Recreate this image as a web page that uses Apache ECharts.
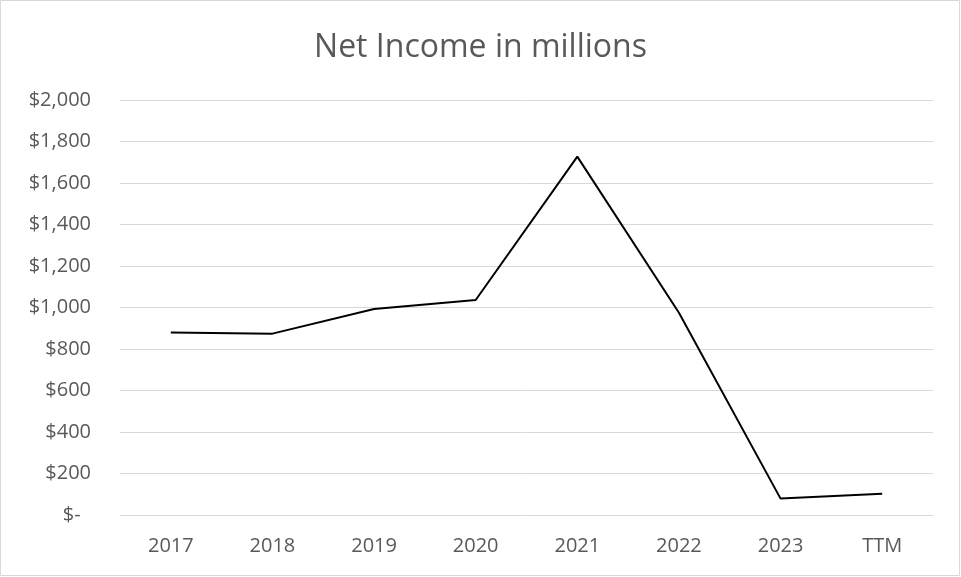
<!DOCTYPE html>
<html>
<head>
<meta charset="utf-8">
<script src="https://cdn.jsdelivr.net/npm/echarts@6/dist/echarts.min.js"></script>
<style>
html,body{margin:0;padding:0;background:#fff;}
#c{width:961px;height:577px;}
</style>
</head>
<body>
<div id="c"></div>
<script>
const categories = ['2017','2018','2019','2020','2021','2022','2023','TTM'];
const netIncome = [880, 874, 993, 1036, 1727, 975, 79, 103];
const yTicks = [0, 200, 400, 600, 800, 1000, 1200, 1400, 1600, 1800, 2000];

const chart = echarts.init(document.getElementById('c'));
const font = "'Open Sans', 'Noto Sans', sans-serif";
chart.setOption({
  animation: false,
  backgroundColor: '#fff',
  title: {
    text: 'Net Income in millions',
    left: 'center',
    top: 27,
    textStyle: { fontFamily: font, fontSize: 32, fontWeight: 'normal', color: '#595959' }
  },
  graphic: [{
    type: 'rect',
    shape: { x: 0.5, y: 0.5, width: 959, height: 575 },
    style: { fill: 'none', stroke: '#d9d9d9', lineWidth: 1 },
    silent: true
  }],
  grid: { left: 120, right: 28, top: 100, bottom: 62 },
  xAxis: {
    type: 'category',
    data: categories,
    boundaryGap: true,
    axisLine: { lineStyle: { color: '#d9d9d9', width: 1 } },
    axisTick: { show: false },
    axisLabel: { color: '#595959', fontFamily: font, fontSize: 20, margin: 21 }
  },
  yAxis: {
    type: 'value',
    min: yTicks[0],
    max: yTicks[yTicks.length - 1],
    interval: 200,
    axisLine: { show: false },
    axisTick: { show: false },
    splitLine: { lineStyle: { color: '#d9d9d9', width: 1 } },
    axisLabel: {
      color: '#595959', fontFamily: font, fontSize: 20, margin: 29,
      formatter: function (v) {
        if (v === 0) return '$-  ';
        return '$' + v.toLocaleString('en-US');
      }
    }
  },
  series: [{
    type: 'line',
    data: netIncome,
    symbol: 'none',
    lineStyle: { color: '#000', width: 2 }
  }]
});
</script>
</body>
</html>
